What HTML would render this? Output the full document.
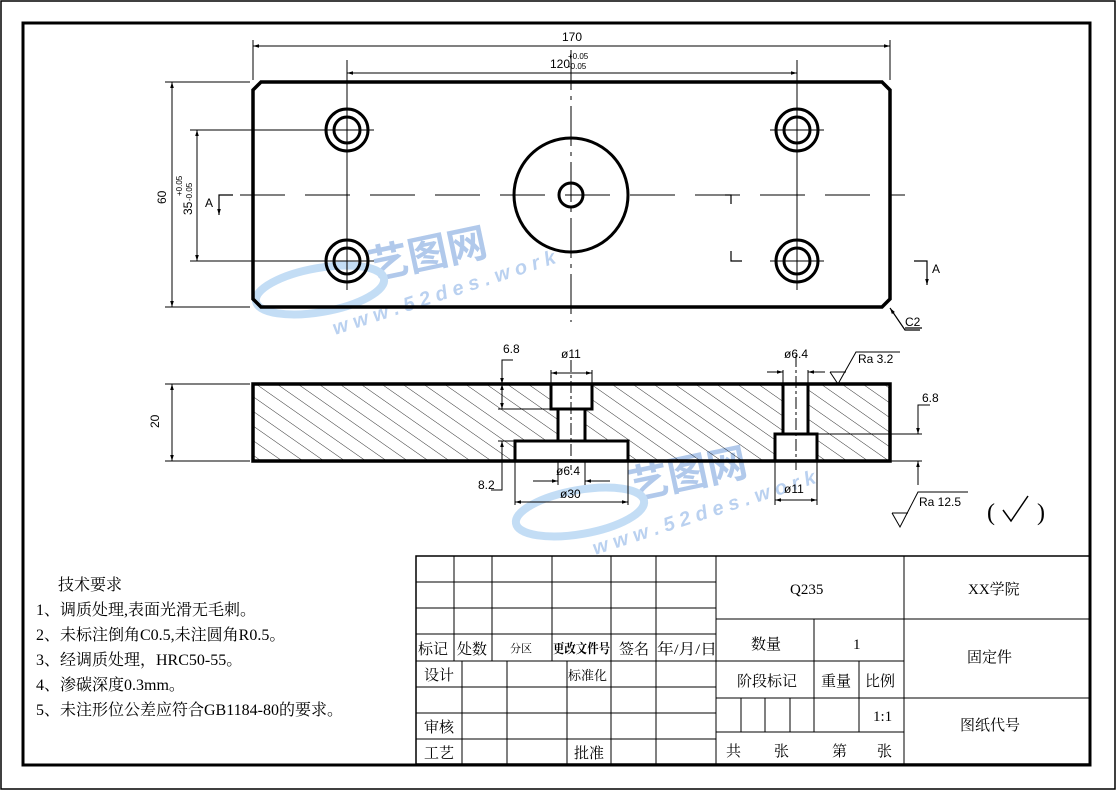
<!DOCTYPE html>
<html><head><meta charset="utf-8"><style>
body{margin:0;background:#fff}
svg{display:block}
text{font-family:"Liberation Sans","Noto Sans CJK SC",sans-serif;fill:#000}
.cn{font-family:"Liberation Serif","Noto Serif CJK SC","Noto Sans CJK SC",serif}
</style></head><body>
<svg width="1117" height="791" viewBox="0 0 1117 791" xmlns="http://www.w3.org/2000/svg">
<defs>
<marker id="ar" viewBox="0 0 10 10" refX="10" refY="5" markerWidth="10" markerHeight="6" orient="auto-start-reverse" markerUnits="userSpaceOnUse"><path d="M0,2 L10,5 L0,8z" fill="#000"/></marker>
<pattern id="h" width="12" height="12" patternUnits="userSpaceOnUse" patternTransform="rotate(-55)"><line x1="0" y1="0" x2="0" y2="12" stroke="#000" stroke-width="0.8"/></pattern>
</defs>
<rect x="1" y="1" width="1114" height="788" fill="none" stroke="#000" stroke-width="1.5"/>
<rect x="23" y="23" width="1067" height="742" fill="none" stroke="#000" stroke-width="3"/>

<!-- watermark -->
<g opacity="0.6">
<text x="372" y="280" font-size="40" font-weight="bold" style="fill:#7ea6de" transform="rotate(-12 372 280)">艺图网</text>
<text x="335" y="335" font-size="20" font-weight="bold" font-style="italic" style="fill:#8db3e6" transform="rotate(-18 335 335)">w w w . 5 2 d e s . w o r k</text>
<ellipse cx="320" cy="290" rx="65" ry="22" fill="none" stroke="#9cc6ef" stroke-width="8" transform="rotate(-10 320 290)"/>
<text x="632" y="500" font-size="40" font-weight="bold" style="fill:#7ea6de" transform="rotate(-12 632 500)">艺图网</text>
<text x="595" y="555" font-size="20" font-weight="bold" font-style="italic" style="fill:#8db3e6" transform="rotate(-18 595 555)">w w w . 5 2 d e s . w o r k</text>
<ellipse cx="580" cy="512" rx="65" ry="22" fill="none" stroke="#9cc6ef" stroke-width="8" transform="rotate(-10 580 512)"/>
</g>

<!-- top view -->
<path d="M261,82 L882,82 L890,90 L890,299 L882,307 L261,307 L253,299 L253,90 Z" fill="none" stroke="#000" stroke-width="3.5"/>
<g stroke="#000" stroke-width="1" fill="none">
<line x1="571" y1="50" x2="571" y2="322" stroke-dasharray="40,6,4,6"/>
<line x1="240" y1="195" x2="905" y2="195" stroke-dasharray="45,20"/>
<line x1="347" y1="60" x2="347" y2="290"/>
<line x1="797" y1="60" x2="797" y2="290"/>
<line x1="320" y1="130" x2="374" y2="130"/><line x1="770" y1="130" x2="824" y2="130"/>
<line x1="190" y1="130" x2="320" y2="130"/>
<line x1="190" y1="261" x2="374" y2="261"/><line x1="770" y1="261" x2="824" y2="261"/>
</g>
<g stroke="#000" stroke-width="3" fill="none">
<circle cx="347" cy="130" r="21"/><circle cx="347" cy="130" r="13"/>
<circle cx="797" cy="130" r="21"/><circle cx="797" cy="130" r="13"/>
<circle cx="347" cy="261" r="21"/><circle cx="347" cy="261" r="13"/>
<circle cx="797" cy="261" r="21"/><circle cx="797" cy="261" r="13"/>
<circle cx="571" cy="195" r="57"/><circle cx="571" cy="195" r="12"/>
</g>
<g stroke="#000" stroke-width="1.2" fill="none">
<polyline points="233,195 219,195 219,215" marker-end="url(#ar)"/>
<polyline points="914,261 927,261 927,285" marker-end="url(#ar)"/>
<polyline points="725,195 731,195 731,204"/>
<polyline points="731,251 731,261 742,261"/>
<polyline points="920,330 905,330 890,308" marker-end="url(#ar)"/>
<line x1="905" y1="328" x2="922" y2="328"/>
</g>
<text x="205" y="207" font-size="12">A</text>
<text x="932" y="273" font-size="12">A</text>
<text x="905" y="326" font-size="12">C2</text>

<g stroke="#000" stroke-width="1" fill="none">
<line x1="253" y1="40" x2="253" y2="80"/><line x1="890" y1="40" x2="890" y2="80"/>
<line x1="253" y1="46" x2="890" y2="46" marker-start="url(#ar)" marker-end="url(#ar)"/>
<line x1="347" y1="73" x2="797" y2="73" marker-start="url(#ar)" marker-end="url(#ar)"/>
<line x1="165" y1="82" x2="250" y2="82"/><line x1="165" y1="307" x2="250" y2="307"/>
<line x1="172" y1="82" x2="172" y2="307" marker-start="url(#ar)" marker-end="url(#ar)"/>
<line x1="197" y1="130" x2="197" y2="261" marker-start="url(#ar)" marker-end="url(#ar)"/>
</g>
<text x="562" y="41" font-size="12">170</text>
<text x="550" y="68" font-size="12">120</text>
<text x="568" y="59" font-size="8">+0.05</text>
<text x="568" y="69" font-size="8">-0.05</text>
<text x="166" y="204" font-size="12" transform="rotate(-90 166 204)">60</text>
<text x="192" y="215" font-size="12" transform="rotate(-90 192 215)">35</text>
<text x="182" y="196" font-size="8" transform="rotate(-90 182 196)">+0.05</text>
<text x="192" y="201" font-size="8" transform="rotate(-90 192 201)">-0.05</text>

<!-- section view -->
<rect x="253" y="384" width="637" height="77" fill="url(#h)"/>
<g fill="#fff" stroke="#000" stroke-width="3">
<rect x="551" y="384" width="41" height="25"/>
<rect x="558" y="409" width="27" height="32"/>
<rect x="515" y="441" width="113" height="20"/>
<rect x="783" y="384" width="25" height="50"/>
<rect x="775" y="434" width="42" height="27"/>
</g>
<rect x="253" y="384" width="637" height="77" fill="none" stroke="#000" stroke-width="3.5"/>
<g stroke="#000" stroke-width="1" fill="none">
<line x1="571" y1="360" x2="571" y2="470" stroke-dasharray="12,3,3,3"/>
<line x1="796" y1="355" x2="796" y2="470" stroke-dasharray="12,3,3,3"/>
<line x1="165" y1="384" x2="250" y2="384"/><line x1="165" y1="461" x2="250" y2="461"/>
<line x1="172" y1="384" x2="172" y2="461" marker-start="url(#ar)" marker-end="url(#ar)"/>
<line x1="551" y1="370" x2="551" y2="384"/><line x1="592" y1="370" x2="592" y2="384"/>
<line x1="551" y1="373" x2="592" y2="373" marker-start="url(#ar)" marker-end="url(#ar)"/>
<line x1="783" y1="370" x2="783" y2="384"/><line x1="808" y1="370" x2="808" y2="384"/>
<polyline points="767,372 783,372" marker-end="url(#ar)"/><polyline points="825,372 808,372" marker-end="url(#ar)"/>
<polyline points="513,360 502,360 502,384" marker-end="url(#ar)"/>
<line x1="502" y1="384" x2="502" y2="409" marker-start="url(#ar)" marker-end="url(#ar)"/>
<line x1="498" y1="409" x2="551" y2="409"/>
<line x1="498" y1="441" x2="515" y2="441"/>
<line x1="502" y1="441" x2="502" y2="461" marker-start="url(#ar)"/>
<polyline points="502,461 502,490 491,490"/>
<line x1="515" y1="461" x2="515" y2="505"/><line x1="628" y1="461" x2="628" y2="505"/>
<line x1="515" y1="502" x2="628" y2="502" marker-start="url(#ar)" marker-end="url(#ar)"/>
<line x1="558" y1="461" x2="558" y2="485"/><line x1="585" y1="461" x2="585" y2="485"/>
<polyline points="533,481 558,481" marker-end="url(#ar)"/><polyline points="610,481 585,481" marker-end="url(#ar)"/>
<line x1="775" y1="461" x2="775" y2="505"/><line x1="817" y1="461" x2="817" y2="505"/>
<line x1="775" y1="500" x2="817" y2="500" marker-start="url(#ar)" marker-end="url(#ar)"/>
<line x1="817" y1="434" x2="922" y2="434"/><line x1="890" y1="461" x2="922" y2="461"/>
<polyline points="930,405 918,405 918,434" marker-end="url(#ar)"/>
<polyline points="918,485 918,461" marker-end="url(#ar)"/>
<polyline points="830,372 838,384 856,352 900,352"/>
<line x1="830" y1="372" x2="846" y2="372"/>
<polyline points="892,513 900,527 918,492 968,492"/>
<line x1="892" y1="513" x2="908" y2="513"/>
</g>
<text x="503" y="353" font-size="12">6.8</text>
<text x="561" y="358" font-size="12">ø11</text>
<text x="784" y="358" font-size="12">ø6.4</text>
<text x="858" y="363" font-size="12">Ra  3.2</text>
<text x="922" y="402" font-size="12">6.8</text>
<text x="478" y="489" font-size="12">8.2</text>
<text x="556" y="475" font-size="12">ø6.4</text>
<text x="560" y="498" font-size="12">ø30</text>
<text x="784" y="493" font-size="12">ø11</text>
<text x="919" y="506" font-size="12">Ra  12.5</text>
<text x="987" y="520" font-size="24" class="cn">(</text>
<text x="1037" y="520" font-size="24" class="cn">)</text>
<polyline points="1003,510 1011,521 1028,496" fill="none" stroke="#000" stroke-width="1.5"/>
<text x="159" y="428" font-size="12" transform="rotate(-90 159 428)">20</text>

<g font-size="16">
<text x="58" y="590" class="cn">技术要求</text>
<text x="36" y="615" class="cn">1、调质处理,表面光滑无毛刺。</text>
<text x="36" y="640" class="cn">2、未标注倒角C0.5,未注圆角R0.5。</text>
<text x="36" y="665" class="cn">3、经调质处理，HRC50-55。</text>
<text x="36" y="690" class="cn">4、渗碳深度0.3mm。</text>
<text x="36" y="715" class="cn">5、未注形位公差应符合GB1184-80的要求。</text>
</g>

<g stroke="#000" stroke-width="1" fill="none">
<rect x="416" y="556" width="674" height="208" stroke-width="1.5"/>
<line x1="416" y1="582" x2="716" y2="582"/>
<line x1="416" y1="608" x2="716" y2="608"/>
<line x1="416" y1="634" x2="716" y2="634"/>
<line x1="416" y1="661" x2="716" y2="661"/>
<line x1="416" y1="687" x2="716" y2="687"/>
<line x1="416" y1="713" x2="716" y2="713"/>
<line x1="416" y1="739" x2="716" y2="739"/>
<line x1="454" y1="556" x2="454" y2="661"/>
<line x1="492" y1="556" x2="492" y2="661"/>
<line x1="552" y1="556" x2="552" y2="661"/>
<line x1="611" y1="556" x2="611" y2="764"/>
<line x1="656" y1="556" x2="656" y2="764"/>
<line x1="462" y1="661" x2="462" y2="764"/>
<line x1="507" y1="661" x2="507" y2="764"/>
<line x1="567" y1="661" x2="567" y2="764"/>
<line x1="716" y1="556" x2="716" y2="764"/>
<line x1="904" y1="556" x2="904" y2="764"/>
<line x1="716" y1="619" x2="1090" y2="619"/>
<line x1="716" y1="661" x2="904" y2="661"/>
<line x1="716" y1="698" x2="1090" y2="698"/>
<line x1="716" y1="732" x2="904" y2="732"/>
<line x1="814" y1="619" x2="814" y2="732"/>
<line x1="859" y1="661" x2="859" y2="732"/>
<line x1="741" y1="698" x2="741" y2="732"/>
<line x1="765" y1="698" x2="765" y2="732"/>
<line x1="790" y1="698" x2="790" y2="732"/>
</g>
<g font-size="15">
<text x="418" y="654" class="cn">标记</text>
<text x="457" y="654" class="cn">处数</text>
<text x="510" y="652" font-size="11" class="cn">分区</text>
<text x="553" y="653" font-size="13" font-weight="bold" class="cn" textLength="57" lengthAdjust="spacingAndGlyphs">更改文件号</text>
<text x="619" y="654" class="cn">签名</text>
<text x="657" y="654" class="cn" textLength="60" lengthAdjust="spacingAndGlyphs">年/月/日</text>
<text x="424" y="680" class="cn">设计</text>
<text x="568" y="680" font-size="13" class="cn">标准化</text>
<text x="424" y="732" class="cn">审核</text>
<text x="424" y="758" class="cn">工艺</text>
<text x="574" y="758" class="cn">批准</text>
<text x="790" y="594" class="cn">Q235</text>
<text x="968" y="594" class="cn">XX学院</text>
<text x="751" y="649" class="cn">数量</text>
<text x="853" y="649" class="cn">1</text>
<text x="967" y="662" class="cn">固定件</text>
<text x="737" y="686" class="cn">阶段标记</text>
<text x="821" y="686" class="cn">重量</text>
<text x="865" y="686" class="cn">比例</text>
<text x="873" y="721" class="cn">1:1</text>
<text x="960" y="730" class="cn">图纸代号</text>
<text x="726" y="756" class="cn">共</text>
<text x="774" y="756" class="cn">张</text>
<text x="832" y="756" class="cn">第</text>
<text x="877" y="756" class="cn">张</text>
</g>
</svg>
</body></html>
